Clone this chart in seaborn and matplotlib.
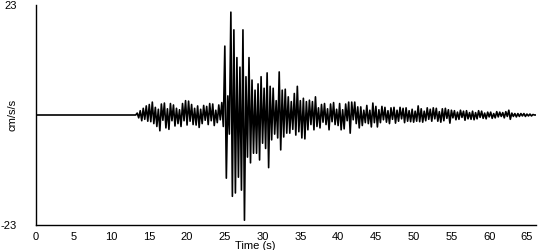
import numpy as np
import pandas as pd
import matplotlib
matplotlib.use("Agg")
import matplotlib.pyplot as plt
import seaborn as sns

# quiet pre-event trace (s, cm/s/s)
pre_time = [0.0, 12.8]
pre_accel = [0.0, 0.0]

# event record: samples every 0.2 s starting at 13.0 s, one row per second
record_start = 13.0
record_dt = 0.2
accel_rows = [
    [0.0, 0.0, 0.4, -0.6, 0.9],        # 13
    [-1.2, 1.4, -0.9, 1.9, -1.3],      # 14
    [2.2, -1.4, 2.7, -1.8, 1.6],       # 15
    [-2.4, 1.2, -3.3, 2.3, -1.1],      # 16
    [2.5, -2.7, 1.3, -3.0, 2.4],       # 17
    [-1.2, 2.1, -2.3, 1.4, -1.8],      # 18
    [1.1, -2.4, 2.4, -1.2, 3.0],       # 19
    [-2.1, 2.9, -1.3, 2.2, -2.0],      # 20
    [1.4, -2.1, 1.9, -2.6, 1.2],       # 21
    [-1.8, 2.0, -1.1, 1.8, -2.0],      # 22
    [2.4, -1.2, 2.3, -2.2, 1.0],       # 23
    [-1.6, 2.1, -1.0, 2.6, -2.4],      # 24
    [14.4, -13.2, 4.0, -4.0, 21.5],    # 25
    [-17.0, 17.8, -16.3, 12.0, -13.0], # 26
    [10.0, -15.7, 17.8, -22.0, 8.0],   # 27
    [-8.8, 12.0, -10.0, 7.3, -8.0],    # 28
    [5.2, -8.0, 6.5, -9.4, 8.0],       # 29
    [-5.9, 5.6, -7.0, 8.8, -11.0],     # 30
    [6.0, -5.2, 5.6, -4.0, 3.0],       # 31
    [-4.8, 9.0, -7.3, 5.2, -4.6],      # 32
    [5.4, -3.8, 3.8, -3.8, 2.8],       # 33
    [-3.0, 4.5, -4.2, 6.0, -3.5],      # 34
    [3.0, -4.8, 3.5, -5.0, 2.8],       # 35
    [-3.1, 3.1, -2.0, 2.8, -3.1],      # 36
    [3.8, -2.4, 1.5, -2.7, 2.2],       # 37
    [-1.5, 2.4, -2.0, 1.3, -3.1],      # 38
    [2.3, -1.4, 2.6, -2.0, 1.2],       # 39
    [-2.2, 2.4, -3.1, 1.1, -2.9],      # 40
    [2.3, -1.2, 2.7, -3.8, 2.7],       # 41
    [-1.0, 2.7, -1.8, 1.7, -2.7],      # 42
    [1.7, -2.2, 1.0, -1.6, 2.0],       # 43
    [-1.8, 1.0, -2.5, 2.5, -1.6],      # 44
    [1.8, -2.5, 1.1, -1.6, 1.8],       # 45
    [-1.0, 1.6, -1.5, 0.9, -1.8],      # 46
    [1.5, -0.9, 1.6, -1.7, 1.0],       # 47
    [-1.3, 1.6, -0.8, 1.4, -1.6],      # 48
    [1.5, -1.3, 0.9, -1.4, 1.2],       # 49
    [-1.5, 0.8, -1.3, 1.9, -1.4],      # 50
    [1.3, -1.5, 0.8, -1.2, 1.5],       # 51
    [-0.9, 1.2, -1.3, 1.5, -0.8],      # 52
    [1.4, -1.3, 0.7, -1.5, 1.3],       # 53
    [-1.2, 1.4, -0.7, 1.1, -1.7],      # 54
    [1.0, -0.6, 0.9, -1.0, 0.6],       # 55
    [-0.9, 1.0, -0.5, 0.8, -1.1],      # 56
    [0.9, -0.8, 0.5, -0.9, 0.8],       # 57
    [-1.0, 0.5, -0.8, 0.9, -0.5],      # 58
    [0.8, -0.7, 0.4, -0.8, 0.6],       # 59
    [-0.4, 0.6, -0.7, 0.3, -0.6],      # 60
    [0.7, -0.4, 0.6, -0.3, 0.5],       # 61
    [-0.6, 0.7, -0.3, 1.0, -0.9],      # 62
    [0.4, -0.3, 0.3, -0.4, 0.3],       # 63
    [-0.3, 0.3, -0.2, 0.3, -0.3],      # 64
    [0.2, -0.2, 0.2, -0.2, 0.1],       # 65
    [0.0, 0.0],                        # 66
]

x_ticks = [0, 5, 10, 15, 20, 25, 30, 35, 40, 45, 50, 55, 60, 65]
y_ticks = [-23, 23]
x_label = "Time (s)"
y_label = "cm/s/s"

rec_vals = [v for row in accel_rows for v in row]
rec_time = [record_start + i * record_dt for i in range(len(rec_vals))]
df = pd.DataFrame({"t": pre_time + rec_time, "a": pre_accel + rec_vals})

sns.set_style("white")
plt.rcParams["font.family"] = ["Liberation Sans", "DejaVu Sans"]
plt.rcParams["text.color"] = "black"
plt.rcParams["axes.labelcolor"] = "black"
plt.rcParams["xtick.color"] = "black"
plt.rcParams["ytick.color"] = "black"

fig = plt.figure(figsize=(5.5, 2.5), dpi=100)
ax = fig.add_axes([36 / 550, 25 / 250, 500 / 550, 220 / 250])
sns.lineplot(data=df, x="t", y="a", ax=ax, color="black", linewidth=1.2,
             sort=False, estimator=None)

ax.set_xlim(0, 66.2)
ax.set_ylim(-23, 23)
ax.set_xticks(x_ticks)
ax.set_xticklabels([str(v) for v in x_ticks], fontsize=8)
ax.set_yticks(y_ticks)
ax.set_yticklabels([str(v) for v in y_ticks], fontsize=8)
ax.tick_params(axis="x", length=4, width=0.8, color="black", labelcolor="black",
               pad=1, direction="out")
ax.tick_params(axis="y", length=0, pad=14, labelcolor="black")
ax.set_xlabel(x_label, fontsize=8, color="black")
ax.set_ylabel(y_label, fontsize=8, color="black")
ax.xaxis.set_label_coords((255 - 36) / 500, -0.095)
ax.yaxis.set_label_coords(-0.047, 0.5)
ax.xaxis.label.set_va("center")
ax.yaxis.label.set_va("center")
for s in ["top", "right"]:
    ax.spines[s].set_visible(False)
for s in ["left", "bottom"]:
    ax.spines[s].set_color("black")
    ax.spines[s].set_linewidth(1.0)
ax.grid(False)

fig.savefig("out.png", dpi=100, facecolor="white")
